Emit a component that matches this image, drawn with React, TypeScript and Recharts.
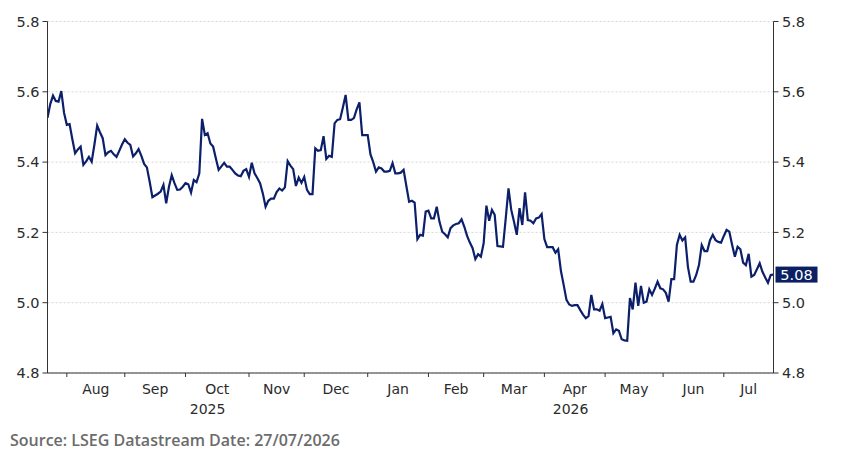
import { CartesianGrid, Line, LineChart, ReferenceLine, XAxis, YAxis } from 'recharts';

// daily (weekday) series, 23 Jul 2025 .. 27 Jul 2026
const startDate = '2025-07-23';
const endDate = '2026-07-27';
const monthNames = ['Jan', 'Feb', 'Mar', 'Apr', 'May', 'Jun', 'Jul', 'Aug', 'Sep', 'Oct', 'Nov', 'Dec'];
const yTicks = [4.8, 5.0, 5.2, 5.4, 5.6, 5.8];
const lastValue = 5.08;
const sourceText = 'Source: LSEG Datastream Date: 27/07/2026';

const yields = [
  5.526, 5.565, 5.589, 5.574, 5.572, 5.602, 5.540, 5.506, 5.508, 5.465,
  5.425, 5.436, 5.444, 5.392, 5.402, 5.415, 5.401, 5.450, 5.504, 5.485,
  5.468, 5.420, 5.428, 5.432, 5.422, 5.415, 5.432, 5.450, 5.465, 5.455,
  5.449, 5.416, 5.425, 5.437, 5.418, 5.395, 5.385, 5.345, 5.300, 5.305,
  5.310, 5.316, 5.335, 5.283, 5.330, 5.363, 5.340, 5.321, 5.322, 5.330,
  5.340, 5.337, 5.313, 5.349, 5.343, 5.368, 5.523, 5.477, 5.482, 5.453,
  5.444, 5.410, 5.378, 5.388, 5.398, 5.387, 5.387, 5.378, 5.368, 5.362,
  5.360, 5.375, 5.380, 5.358, 5.398, 5.368, 5.355, 5.340, 5.311, 5.273,
  5.290, 5.296, 5.296, 5.315, 5.325, 5.319, 5.328, 5.403, 5.390, 5.380,
  5.332, 5.356, 5.341, 5.358, 5.321, 5.309, 5.309, 5.439, 5.432, 5.434,
  5.474, 5.409, 5.418, 5.415, 5.510, 5.520, 5.522, 5.555, 5.591, 5.520,
  5.520, 5.525, 5.550, 5.570, 5.477, 5.477, 5.477, 5.422, 5.400, 5.373,
  5.385, 5.382, 5.373, 5.373, 5.375, 5.397, 5.368, 5.368, 5.370, 5.378,
  5.332, 5.287, 5.290, 5.285, 5.181, 5.193, 5.191, 5.259, 5.262, 5.240,
  5.240, 5.273, 5.230, 5.202, 5.195, 5.186, 5.212, 5.220, 5.224, 5.226,
  5.237, 5.216, 5.190, 5.171, 5.155, 5.124, 5.138, 5.131, 5.169, 5.276,
  5.233, 5.264, 5.250, 5.161, 5.160, 5.159, 5.240, 5.325, 5.264, 5.230,
  5.193, 5.269, 5.221, 5.314, 5.235, 5.233, 5.226, 5.240, 5.242, 5.252,
  5.181, 5.158, 5.158, 5.158, 5.142, 5.152, 5.090, 5.050, 5.008, 4.995,
  4.991, 4.993, 4.993, 4.979, 4.966, 4.956, 4.962, 5.022, 4.981, 4.981,
  4.977, 4.996, 4.956, 4.958, 4.960, 4.913, 4.924, 4.920, 4.896, 4.893,
  4.892, 5.013, 4.981, 5.057, 4.991, 5.048, 5.000, 5.003, 5.038, 5.022,
  5.040, 5.060, 5.041, 5.038, 5.028, 5.003, 5.067, 5.067, 5.164, 5.193,
  5.177, 5.186, 5.102, 5.060, 5.060, 5.079, 5.107, 5.164, 5.147, 5.147,
  5.178, 5.193, 5.178, 5.173, 5.171, 5.190, 5.207, 5.202, 5.165, 5.131,
  5.159, 5.152, 5.114, 5.107, 5.139, 5.074, 5.079, 5.095, 5.112, 5.088,
  5.072, 5.057, 5.079, 5.080,
];

function weekdays(from: string, to: string) {
  const out: Date[] = [];
  const d = new Date(from + 'T00:00:00Z');
  const end = new Date(to + 'T00:00:00Z');
  while (d <= end) {
    const wd = d.getUTCDay();
    if (wd !== 0 && wd !== 6) out.push(new Date(d));
    d.setUTCDate(d.getUTCDate() + 1);
  }
  return out;
}

const dates = weekdays(startDate, endDate);
const data = dates.map((d, i) => ({ i, v: yields[i] }));
const lastIdx = dates.length - 1;

// month / year segments on the weekday index
function segments(key: (d: Date) => number) {
  const segs: { start: number; end: number; key: number }[] = [];
  dates.forEach((d, i) => {
    const k = key(d);
    if (!segs.length || segs[segs.length - 1].key !== k) {
      if (segs.length) segs[segs.length - 1].end = i;
      segs.push({ start: i, end: lastIdx, key: k });
    }
  });
  return segs;
}

const monthSegs = segments((d) => d.getUTCFullYear() * 12 + d.getUTCMonth());
const yearSegs = segments((d) => d.getUTCFullYear());
const monthTicks = monthSegs.slice(1).map((s) => s.start);
const monthLabelSegs = monthSegs.filter((s) => s.end - s.start >= 10);
const monthLabelTicks = monthLabelSegs.map((s) => (s.start + s.end) / 2);
const yearTicks = yearSegs.map((s) => (s.start + s.end) / 2);

const monthLabel = (t: number) => {
  const s = monthLabelSegs.find((m) => (m.start + m.end) / 2 === t);
  return s ? monthNames[s.key % 12] : '';
};
const yearLabel = (t: number) => {
  const s = yearSegs.find((m) => (m.start + m.end) / 2 === t);
  return s ? String(s.key) : '';
};

const navy = '#0c1f6b';
const font = 'DejaVu Sans';

function LastLabel(props: any) {
  const vb = props.viewBox;
  const x = vb.x + vb.width + 2;
  const y = vb.y;
  return (
    <g>
      <rect x={x} y={y - 8} width={42} height={16} fill="#0b1f63" />
      <text x={x + 21} y={y} dy="0.36em" textAnchor="middle" fill="#ffffff" fontSize={14.5} fontFamily={font}>
        {lastValue.toFixed(2)}
      </text>
    </g>
  );
}

export default function App() {
  const tickStyle = { fontSize: 14.5, fill: '#2b2b2b', fontFamily: font };
  const xTickStyle = { fontSize: 14, fill: '#2b2b2b', fontFamily: font };
  return (
    <div style={{ width: 845 }}>
      <LineChart width={845} height={420} data={data} margin={{ top: 13.5, right: 0, bottom: 9, left: 0 }}>
        <CartesianGrid yAxisId="l" xAxisId="main" vertical={false} stroke="#d6d6d6" strokeDasharray="2 2" />
        <XAxis
          xAxisId="main"
          dataKey="i"
          type="number"
          domain={[0, lastIdx]}
          ticks={monthTicks}
          tickFormatter={() => ''}
          tickSize={4}
          height={6}
          stroke="#333"
          interval={0}
          allowDataOverflow
        />
        <XAxis
          xAxisId="months"
          type="number"
          domain={[0, lastIdx]}
          ticks={monthLabelTicks}
          tickFormatter={monthLabel}
          tick={xTickStyle}
          tickLine={false}
          axisLine={false}
          tickSize={0}
          tickMargin={5}
          height={20}
          interval={0}
          allowDataOverflow
        />
        <XAxis
          xAxisId="years"
          type="number"
          domain={[0, lastIdx]}
          ticks={yearTicks}
          tickFormatter={yearLabel}
          tick={xTickStyle}
          tickLine={false}
          axisLine={false}
          tickSize={0}
          tickMargin={5}
          height={20}
          interval={0}
          allowDataOverflow
        />
        <YAxis
          yAxisId="l"
          domain={[4.8, 5.8]}
          ticks={yTicks}
          tickFormatter={(v: number) => v.toFixed(1)}
          width={39.5}
          tick={tickStyle}
          tickSize={5}
          tickMargin={3}
          stroke="#333"
          interval={0}
          allowDataOverflow
        />
        <YAxis
          yAxisId="r"
          orientation="right"
          domain={[4.8, 5.8]}
          ticks={yTicks}
          tickFormatter={(v: number) => v.toFixed(1)}
          width={79.5}
          tick={tickStyle}
          tickSize={5}
          tickMargin={3.5}
          stroke="#333"
          interval={0}
          allowDataOverflow
        />
        <Line
          xAxisId="main"
          yAxisId="l"
          type="linear"
          dataKey="v"
          stroke={navy}
          strokeWidth={2.2}
          dot={false}
          isAnimationActive={false}
        />
        <ReferenceLine
          xAxisId="main"
          yAxisId="r"
          y={lastValue}
          stroke="none"
          label={(p: any) => <LastLabel {...p} />}
        />
      </LineChart>
      <div
        style={{
          marginTop: 2,
          paddingLeft: 2,
          fontFamily: "'Open Sans', sans-serif",
          fontWeight: 600,
          fontSize: 16,
          lineHeight: '20px',
          color: '#6b6b6b',
        }}
      >
        {sourceText}
      </div>
    </div>
  );
}
